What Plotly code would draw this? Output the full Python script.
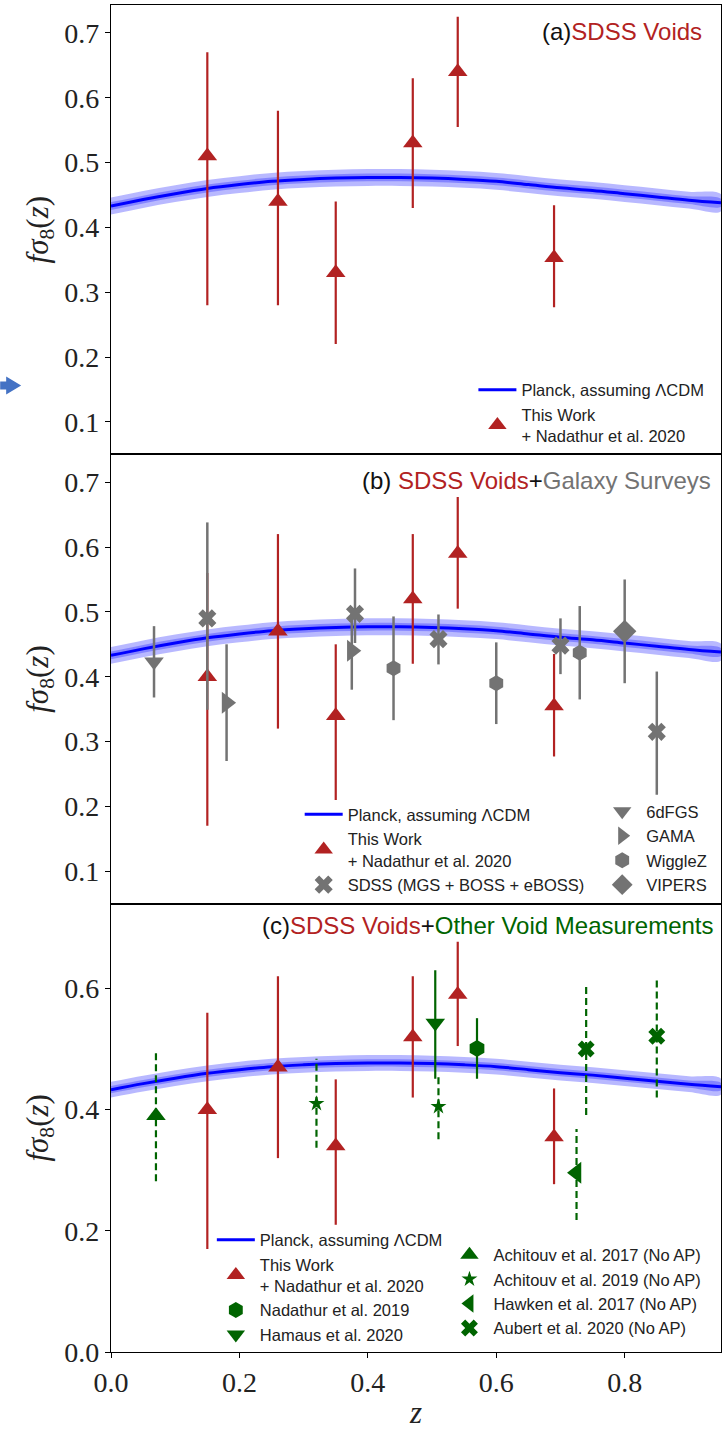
import plotly.graph_objects as go

# ---------------- data ----------------
# Planck LCDM prediction
planck_z = [0.0, 0.05, 0.1, 0.15, 0.2, 0.25, 0.3, 0.35, 0.4, 0.45, 0.5,
            0.55, 0.6, 0.65, 0.7, 0.75, 0.8, 0.85, 0.9, 0.95]
planck_fs8 = [0.433, 0.443, 0.452, 0.460, 0.466, 0.471, 0.474, 0.476, 0.477, 0.477,
              0.476, 0.474, 0.471, 0.466, 0.461, 0.457, 0.452, 0.447, 0.442, 0.438]
planck_sig1 = 0.006
planck_sig2 = 0.013

# This work + Nadathur et al. 2020
void_z = [0.15, 0.26, 0.35, 0.47, 0.54, 0.69]
void_a_fs8 = [0.51, 0.44, 0.33, 0.53, 0.64, 0.353]
void_a_hi = [0.67, 0.58, 0.44, 0.63, 0.725, 0.434]
void_a_lo = [0.28, 0.28, 0.22, 0.43, 0.555, 0.277]
void_bc_fs8 = [0.40, 0.47, 0.34, 0.52, 0.59, 0.355]
void_bc_hi = [0.56, 0.62, 0.45, 0.62, 0.677, 0.435]
void_bc_lo = [0.17, 0.32, 0.21, 0.42, 0.505, 0.277]

# Galaxy surveys
sixdf_z = [0.067]
sixdf_fs8 = [0.423]
sixdf_err = [0.055]
gama_z = [0.18, 0.375]
gama_fs8 = [0.36, 0.44]
gama_err = [0.09, 0.06]
sdss_z = [0.15, 0.38, 0.51, 0.70, 0.85]
sdss_fs8 = [0.49, 0.497, 0.458, 0.448, 0.315]
sdss_hi = [0.638, 0.567, 0.496, 0.49, 0.408]
sdss_lo = [0.349, 0.452, 0.419, 0.404, 0.218]
wigglez_z = [0.44, 0.60, 0.73]
wigglez_fs8 = [0.413, 0.390, 0.437]
wigglez_err = [0.080, 0.063, 0.072]
vipers_z = [0.80]
vipers_fs8 = [0.47]
vipers_err = [0.08]

# Other void measurements
ach17_z = [0.07]
ach17_fs8 = [0.39]
ach17_lo = [0.282]
ach17_hi = [0.496]
ach19_z = [0.32, 0.51]
ach19_fs8 = [0.41, 0.405]
ach19_lo = [0.337, 0.351]
ach19_hi = [0.484, 0.454]
ham20_z = [0.505]
ham20_fs8 = [0.543]
ham20_lo = [0.451]
ham20_hi = [0.63]
nad19_z = [0.57]
nad19_fs8 = [0.501]
nad19_lo = [0.451]
nad19_hi = [0.551]
haw17_z = [0.725]
haw17_fs8 = [0.296]
haw17_lo = [0.218]
haw17_hi = [0.368]
aub20_z = [0.74, 0.85]
aub20_fs8 = [0.50, 0.521]
aub20_lo = [0.391, 0.42]
aub20_hi = [0.608, 0.615]

x_ticks = [0.0, 0.2, 0.4, 0.6, 0.8]
x_ticktext = ["0.0", "0.2", "0.4", "0.6", "0.8"]
y_ticks_ab = [0.1, 0.2, 0.3, 0.4, 0.5, 0.6, 0.7]
y_ticks_c = [0.0, 0.2, 0.4, 0.6]

# ---------------- style ----------------
RED = "#b22222"
GRAY = "#737373"
GREEN = "#006400"
BLUE = "#0000ff"
SANS = "Liberation Sans"
SERIF = "Liberation Serif"
LEGFONT = dict(family=SANS, size=16.5, color="#222222")

W, H = 725, 1430
ML, MR, MT, MB = 111, 3, 5, 73

fig = go.Figure()


def axes(i):
    return ("x" if i == 1 else f"x{i}"), ("y" if i == 1 else f"y{i}")


def add_planck(i, legend):
    xa, ya = axes(i)
    for sig in (planck_sig2, planck_sig1):
        up = [v + sig for v in planck_fs8]
        dn = [v - sig for v in planck_fs8]
        fig.add_trace(go.Scatter(
            x=planck_z + planck_z[::-1], y=up + dn[::-1], fill="toself",
            fillcolor="rgba(0,0,255,0.28)", line=dict(width=0, shape="spline"),
            mode="lines", showlegend=False, hoverinfo="skip", xaxis=xa, yaxis=ya))
    fig.add_trace(go.Scatter(
        x=planck_z, y=planck_fs8, mode="lines",
        line=dict(color=BLUE, width=3, shape="spline"),
        name="Planck, assuming ΛCDM", legend=legend, xaxis=xa, yaxis=ya))


def add_points(i, legend, name, z, f, lo, hi, color, symbol, size,
               dashed=False, thick=2.2, showlegend=True):
    xa, ya = axes(i)
    if dashed:
        xs, ys = [], []
        for zz, l, h in zip(z, lo, hi):
            xs += [zz, zz, None]
            ys += [l, h, None]
        fig.add_trace(go.Scatter(x=xs, y=ys, mode="lines",
                                 line=dict(color=color, width=thick, dash="7px,4px"),
                                 showlegend=False, hoverinfo="skip",
                                 xaxis=xa, yaxis=ya))
        err = None
    else:
        err = dict(type="data", symmetric=False,
                   array=[h - v for h, v in zip(hi, f)],
                   arrayminus=[v - l for v, l in zip(f, lo)],
                   width=0, thickness=thick, color=color)
    fig.add_trace(go.Scatter(
        x=z, y=f, mode="markers", name=name, legend=legend,
        showlegend=showlegend,
        marker=dict(color=color, symbol=symbol, size=size, line=dict(width=0)),
        error_y=err, xaxis=xa, yaxis=ya))


THIS = "This Work<br>+ Nadathur et al. 2020"

# Panel (a)
add_planck(1, "legend")
add_points(1, "legend", THIS, void_z, void_a_fs8, void_a_lo, void_a_hi,
           RED, "triangle-up", 17)

# Panel (b)
add_planck(2, "legend2")
add_points(2, "legend3", "6dFGS", sixdf_z, sixdf_fs8,
           [v - e for v, e in zip(sixdf_fs8, sixdf_err)],
           [v + e for v, e in zip(sixdf_fs8, sixdf_err)],
           GRAY, "triangle-down", 17, thick=2.5)
add_points(2, "legend3", "GAMA", gama_z, gama_fs8,
           [v - e for v, e in zip(gama_fs8, gama_err)],
           [v + e for v, e in zip(gama_fs8, gama_err)],
           GRAY, "triangle-right", 19, thick=2.5)
add_points(2, "legend3", "WiggleZ", wigglez_z, wigglez_fs8,
           [v - e for v, e in zip(wigglez_fs8, wigglez_err)],
           [v + e for v, e in zip(wigglez_fs8, wigglez_err)],
           GRAY, "hexagon", 16, thick=2.5)
add_points(2, "legend3", "VIPERS", vipers_z, vipers_fs8,
           [v - e for v, e in zip(vipers_fs8, vipers_err)],
           [v + e for v, e in zip(vipers_fs8, vipers_err)],
           GRAY, "diamond", 18, thick=2.5)
add_points(2, "legend2", THIS, void_z, void_bc_fs8, void_bc_lo, void_bc_hi,
           RED, "triangle-up", 17)
add_points(2, "legend2", "SDSS (MGS + BOSS + eBOSS)", sdss_z, sdss_fs8,
           sdss_lo, sdss_hi, GRAY, "x", 16, thick=2.5)

# Panel (c)
add_planck(3, "legend4")
add_points(3, "legend5", "Achitouv et al. 2017 (No AP)", ach17_z, ach17_fs8,
           ach17_lo, ach17_hi, GREEN, "triangle-up", 17, dashed=True)
add_points(3, "legend5", "Achitouv et al. 2019 (No AP)", ach19_z, ach19_fs8,
           ach19_lo, ach19_hi, GREEN, "star", 12, dashed=True)
add_points(3, "legend5", "Hawken et al. 2017 (No AP)", haw17_z, haw17_fs8,
           haw17_lo, haw17_hi, GREEN, "triangle-left", 19, dashed=True)
add_points(3, "legend5", "Aubert et al. 2020 (No AP)", aub20_z, aub20_fs8,
           aub20_lo, aub20_hi, GREEN, "x", 15, dashed=True)
add_points(3, "legend4", THIS, void_z, void_bc_fs8, void_bc_lo, void_bc_hi,
           RED, "triangle-up", 17)
add_points(3, "legend4", "Nadathur et al. 2019", nad19_z, nad19_fs8,
           nad19_lo, nad19_hi, GREEN, "hexagon", 17)
add_points(3, "legend4", "Hamaus et al. 2020", ham20_z, ham20_fs8,
           ham20_lo, ham20_hi, GREEN, "triangle-down", 17)

# ---------------- layout ----------------
plot_h = H - MT - MB
plot_w = W - ML - MR


def px(xp):
    return (xp - ML) / plot_w


def py(yp):
    return (H - MB - yp) / plot_h


dom_a = [py(456), 1.0]
dom_b = [py(907), py(456)]
dom_c = [0.0, py(907)]

tickfont = dict(family=SERIF, size=28, color="#222222")
ytitle = dict(text="<i>fσ</i><sub>8</sub>(<i>z</i>)",
              font=dict(family=SERIF, size=31, color="#222222"), standoff=6)

common_x = dict(range=[0, 0.95], showline=True, mirror=True, linecolor="black",
                linewidth=1.3, showgrid=False, zeroline=False)
common_y = dict(showline=True, mirror=True, linecolor="black", linewidth=1.3,
                showgrid=False, zeroline=False, ticks="outside", ticklen=5,
                tickwidth=1.2, tickcolor="black", tickfont=tickfont,
                tickformat=".1f", title=ytitle)

legcommon = dict(xanchor="left", yanchor="top", bgcolor="rgba(0,0,0,0)",
                 font=LEGFONT, itemwidth=38)

fig.update_layout(
    width=W, height=H,
    margin=dict(l=ML, r=MR, t=MT, b=MB),
    paper_bgcolor="white", plot_bgcolor="white",
    xaxis=dict(common_x, anchor="y", showticklabels=False, ticks=""),
    xaxis2=dict(common_x, anchor="y2", showticklabels=False, ticks="", matches="x"),
    xaxis3=dict(common_x, anchor="y3", matches="x", ticks="outside", ticklen=5,
                tickwidth=1.2, tickcolor="black", tickvals=x_ticks,
                ticktext=x_ticktext, tickfont=tickfont,
                title=dict(text="<i>z</i>", font=dict(family=SERIF, size=31,
                                                      color="#222222"),
                           standoff=8)),
    yaxis=dict(common_y, domain=dom_a, range=[0.05, 0.743], anchor="x",
               tickvals=y_ticks_ab),
    yaxis2=dict(common_y, domain=dom_b, range=[0.05, 0.743], anchor="x2",
                tickvals=y_ticks_ab),
    yaxis3=dict(common_y, domain=dom_c, range=[0.0, 0.74], anchor="x3",
                tickvals=y_ticks_c),
    legend=dict(legcommon, x=px(474), y=py(374)),
    legend2=dict(legcommon, x=px(300), y=py(800)),
    legend3=dict(legcommon, x=px(599), y=py(797)),
    legend4=dict(legcommon, x=px(212), y=py(1227)),
    legend5=dict(legcommon, x=px(446), y=py(1242)),
    showlegend=True,
)

title_font = dict(family=SANS, size=24, color="#111111")
titles = [
    ("(a)<span style='color:%s'>SDSS Voids</span>" % RED, 705, 32),
    ("(b) <span style='color:%s'>SDSS Voids</span>+<span style='color:%s'>Galaxy Surveys</span>"
     % (RED, GRAY), 714, 482),
    ("(c)<span style='color:%s'>SDSS Voids</span>+<span style='color:%s'>Other Void Measurements</span>"
     % (RED, GREEN), 717, 929),
]
for text, xr, yc in titles:
    fig.add_annotation(text=text, x=px(xr), y=py(yc), xref="paper", yref="paper",
                       xanchor="right", yanchor="middle", showarrow=False,
                       font=title_font)

# decorative blue arrow at left edge
pts = [(0, 383), (6, 383), (6, 378), (21, 387), (6, 396), (6, 391), (0, 391)]
path = "M " + " L ".join(f"{px(a):.5f},{py(b):.5f}" for a, b in pts) + " Z"
fig.add_shape(type="path", path=path, xref="paper", yref="paper",
              fillcolor="#4472C4", line=dict(width=0))

fig.write_html(
    "out.html",
    config={"displayModeBar": False},
    post_script="document.body.style.margin='0';document.body.style.overflow='hidden';",
)
